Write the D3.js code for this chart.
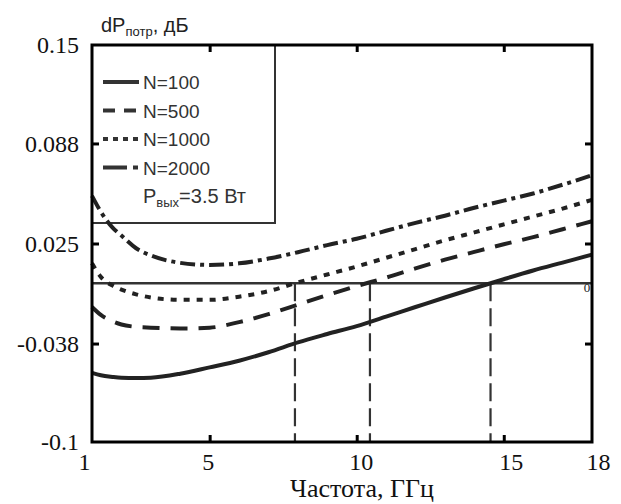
<!DOCTYPE html>
<html>
<head>
<meta charset="utf-8">
<script src="https://cdn.jsdelivr.net/npm/d3@7"></script>
<style>
  body { margin: 0; background: #fff; }
  svg { display: block; }
</style>
</head>
<body>
<div id="chart"></div>
<script>
// data
var freq = [1, 1.3, 1.7, 2, 2.5, 3, 4, 5, 6, 7, 8, 9, 10, 11, 12, 13, 14, 15, 16, 17, 18];

var n100  = [-0.0565, -0.058, -0.059, -0.0595, -0.0597, -0.0595, -0.057, -0.053, -0.0488, -0.0435, -0.0373, -0.032, -0.027, -0.021, -0.015, -0.009, -0.0032, 0.0025, 0.008, 0.013, 0.018];
var n500  = [-0.015, -0.020, -0.024, -0.026, -0.0275, -0.028, -0.0285, -0.028, -0.0245, -0.0195, -0.0135, -0.0075, -0.0018, 0.0035, 0.0093, 0.0148, 0.0197, 0.0245, 0.029, 0.034, 0.039];
var n1000 = [0.0125, 0.004, -0.0015, -0.004, -0.007, -0.009, -0.0105, -0.0105, -0.0085, -0.005, 0.0005, 0.0055, 0.0105, 0.016, 0.0215, 0.027, 0.032, 0.037, 0.042, 0.047, 0.0525];
var n2000 = [0.055, 0.045, 0.035, 0.030, 0.022, 0.0175, 0.0128, 0.0115, 0.0125, 0.0155, 0.0195, 0.024, 0.028, 0.033, 0.038, 0.0425, 0.0475, 0.052, 0.0565, 0.062, 0.068];

var seriesNames = ["N=100", "N=500", "N=1000", "N=2000"];
// frequencies where curves cross zero (drop lines)
var crossings = [7.9, 10.45, 14.55];

var xTicks = [1, 5, 10, 15, 18];
var yTicks = [-0.1, -0.038, 0.025, 0.088, 0.15];
var yTickLabels = ["-0.1", "-0.038", "0.025", "0.088", "0.15"];

// #########################################################
// SVG CANVAS
// #########################################################
var W = 621, H = 504;
var plot = {left: 92, right: 592, top: 45, bottom: 442};

var svg = d3.select("#chart")
  .append("svg")
    .attr("width", W)
    .attr("height", H);

var xScale = d3.scaleLinear().domain([1, 18]).range([plot.left, plot.right]);
var yScale = d3.scaleLinear().domain([-0.1, 0.15]).range([plot.bottom, plot.top]);

var serif = "'Liberation Serif', 'Times New Roman', serif";
var sans = "'Liberation Sans', Arial, sans-serif";

// line styles for each series
var dashes = [null, "17,11", "6,7", "15,5,4,5"];
var legendDashes = [null, "12,9", "5,5", "24,6,5"];
var data = [n100, n500, n1000, n2000];

// zero line
svg.append("line")
    .attr("x1", plot.left).attr("x2", plot.right)
    .attr("y1", yScale(0)).attr("y2", yScale(0))
    .attr("stroke", "#333")
    .attr("stroke-width", 2.5);

// drop lines
svg.selectAll(".drop")
  .data(crossings)
  .enter()
  .append("line")
    .attr("class", "drop")
    .attr("x1", d => xScale(d)).attr("x2", d => xScale(d))
    .attr("y1", yScale(0)).attr("y2", plot.bottom)
    .attr("stroke", "#333")
    .attr("stroke-width", 2.2)
    .attr("stroke-dasharray", "18,7");

// legend box
svg.append("rect")
    .attr("x", plot.left).attr("y", plot.top)
    .attr("width", 183).attr("height", 178)
    .attr("fill", "none")
    .attr("stroke", "#333")
    .attr("stroke-width", 2);

// curves
var line = d3.line()
    .x((d, i) => xScale(freq[i]))
    .y(d => yScale(d))
    .curve(d3.curveMonotoneX);

svg.selectAll(".curve")
  .data(data)
  .enter()
  .append("path")
    .attr("class", "curve")
    .attr("d", d => line(d))
    .attr("fill", "none")
    .attr("stroke", "#222")
    .attr("stroke-width", 4)
    .attr("stroke-dasharray", (d, i) => dashes[i]);

// frame
svg.append("rect")
    .attr("x", plot.left).attr("y", plot.top)
    .attr("width", plot.right - plot.left)
    .attr("height", plot.bottom - plot.top)
    .attr("fill", "none")
    .attr("stroke", "#000")
    .attr("stroke-width", 3);

// inward ticks on all four sides
var inner = [5, 10, 15];
var innerY = [-0.038, 0.025, 0.088];
function tickGroup(axis, tx, ty) {
    var g = svg.append("g")
        .attr("transform", "translate(" + tx + "," + ty + ")")
        .call(axis);
    g.select(".domain").remove();
    g.selectAll("line").attr("stroke", "#000").attr("stroke-width", 3);
}
tickGroup(d3.axisBottom(xScale).tickValues(inner).tickSize(-7).tickFormat(""), 0, plot.bottom);
tickGroup(d3.axisTop(xScale).tickValues(inner).tickSize(-7).tickFormat(""), 0, plot.top);
tickGroup(d3.axisLeft(yScale).tickValues(innerY).tickSize(-7).tickFormat(""), plot.left, 0);
tickGroup(d3.axisRight(yScale).tickValues(innerY).tickSize(-7).tickFormat(""), plot.right, 0);

// tick labels
var xLabels = svg.append("g")
    .attr("transform", "translate(0," + plot.bottom + ")")
    .call(d3.axisBottom(xScale).tickValues(xTicks).tickSize(0).tickPadding(11).tickFormat(d3.format("d")));
xLabels.select(".domain").remove();
xLabels.selectAll("text")
    .attr("font-family", serif)
    .attr("font-size", 24)
    .attr("fill", "#111")
    .attr("dx", (d, i) => [-8, -2, 4, 7, 6][i]);

var yLabels = svg.append("g")
    .attr("transform", "translate(" + plot.left + ",0)")
    .call(d3.axisLeft(yScale).tickValues(yTicks).tickSize(0).tickPadding(13)
        .tickFormat((d, i) => yTickLabels[i]));
yLabels.select(".domain").remove();
yLabels.selectAll("text")
    .attr("font-family", serif)
    .attr("font-size", 24)
    .attr("fill", "#111");

// small "0" at the right end of the zero line
svg.append("text")
    .attr("x", plot.right - 5)
    .attr("y", yScale(0) + 9)
    .attr("text-anchor", "middle")
    .attr("font-family", serif)
    .attr("font-size", 13)
    .attr("fill", "#222")
    .text("0");

// axis titles
var yTitle = svg.append("text")
    .attr("x", 101).attr("y", 32)
    .attr("font-family", sans)
    .attr("font-size", 20)
    .attr("fill", "#222");
yTitle.append("tspan").text("dP");
yTitle.append("tspan").attr("font-size", 13).attr("dy", 4).text("потр");
yTitle.append("tspan").attr("dy", -4).text(", дБ");

svg.append("text")
    .attr("x", 362).attr("y", 497)
    .attr("text-anchor", "middle")
    .attr("font-family", serif)
    .attr("font-size", 26)
    .attr("fill", "#111")
    .text("Частота, ГГц");

// legend entries
var legend = svg.selectAll(".leg")
  .data(seriesNames)
  .enter()
  .append("g")
    .attr("class", "leg")
    .attr("transform", (d, i) => "translate(103," + (82 + i * 28.5) + ")");

legend.append("line")
    .attr("x1", 0).attr("x2", 36)
    .attr("stroke", "#333")
    .attr("stroke-width", 4)
    .attr("stroke-dasharray", (d, i) => legendDashes[i]);

legend.append("text")
    .attr("x", 40).attr("y", 7)
    .attr("font-family", sans)
    .attr("font-size", 19)
    .attr("fill", "#333")
    .text(d => d);

var pOut = svg.append("text")
    .attr("x", 143).attr("y", 203)
    .attr("font-family", sans)
    .attr("font-size", 20)
    .attr("fill", "#333");
pOut.append("tspan").text("P");
pOut.append("tspan").attr("font-size", 13).attr("dy", 4).text("вых");
pOut.append("tspan").attr("dy", -4).text("=3.5 Вт");
</script>
</body>
</html>
